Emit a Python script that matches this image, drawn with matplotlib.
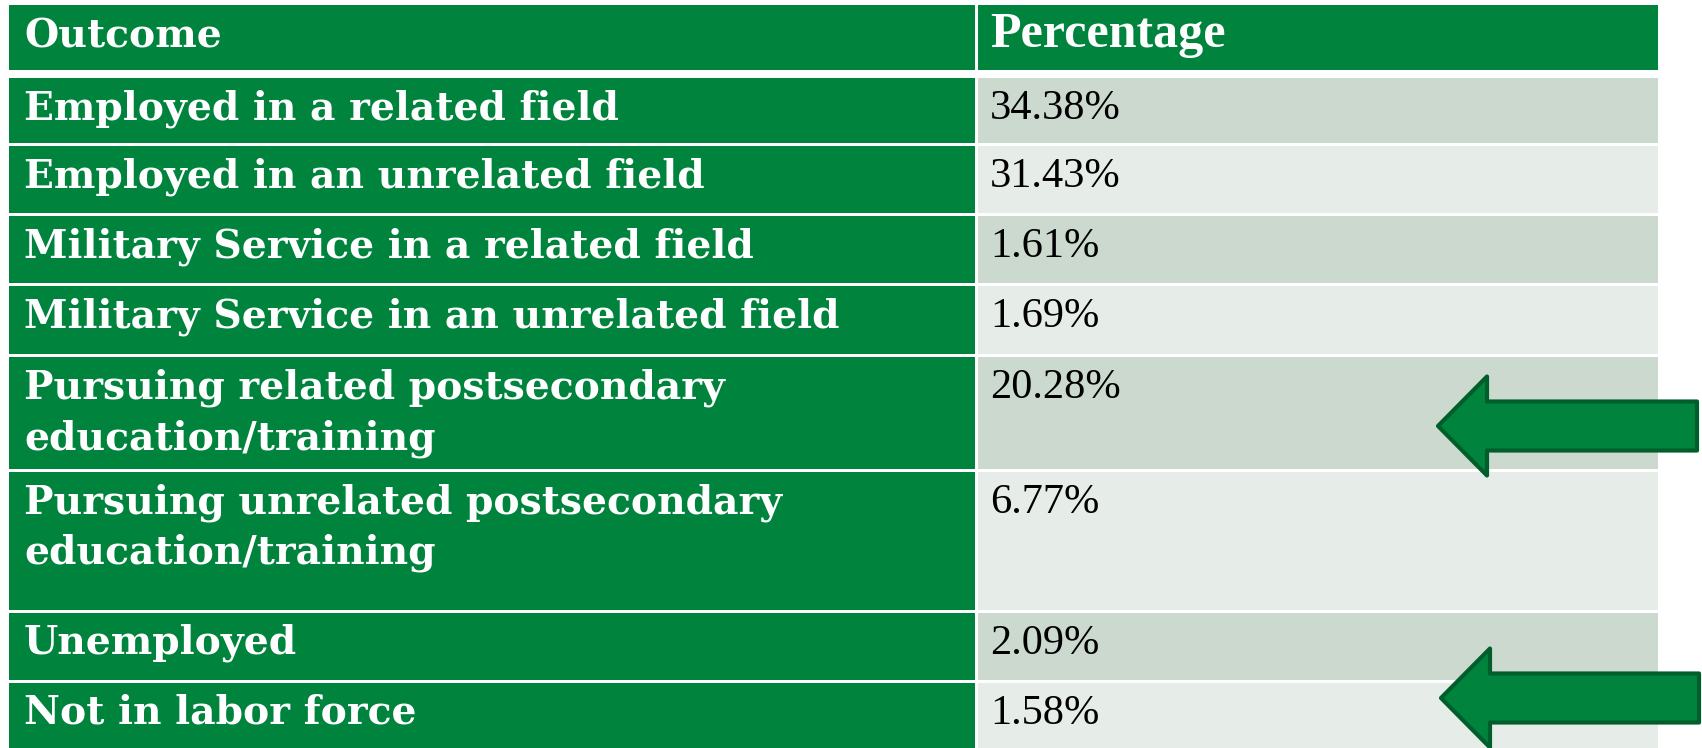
import matplotlib
matplotlib.use("Agg")
import matplotlib.pyplot as plt
from matplotlib.patches import Rectangle, Polygon

# ── data ───────────────────────────────────────────────────────────────────
header = ["Outcome", "Percentage"]
outcomes = [
    "Employed in a related field",
    "Employed in an unrelated field",
    "Military Service in a related field",
    "Military Service in an unrelated field",
    "Pursuing related postsecondary\neducation/training",
    "Pursuing unrelated postsecondary\neducation/training",
    "Unemployed",
    "Not in labor force",
]
percentages = [34.38, 31.43, 1.61, 1.69, 20.28, 6.77, 2.09, 1.58]

# ── layout (pixels) ────────────────────────────────────────────────────────
W, H = 1702, 748
x_left, x_div, x_pct, x_right = 9, 975, 978, 1658
header_top, header_bot = 5, 70
row_tops = [78, 146, 216, 286, 357, 472, 613, 683]
row_bots = [143, 213, 283, 354, 469, 610, 680, 748]

GREEN = "#00843D"
DARK_ROW = "#CCD9CF"
LIGHT_ROW = "#E6ECE8"
ARROW_EDGE = "#005E2A"

fig = plt.figure(figsize=(W / 100, H / 100), dpi=100)
ax = fig.add_axes([0, 0, 1, 1])
ax.set_xlim(0, W)
ax.set_ylim(H, 0)
ax.axis("off")
fig.patch.set_facecolor("white")

label_font = ["DejaVu Serif"]
pct_font = ["Liberation Serif", "DejaVu Serif"]
fs_label = 28.3
fs_pct = 30.5

# header
ax.add_patch(Rectangle((x_left, header_top), x_div - x_left, header_bot - header_top,
                       facecolor=GREEN, edgecolor="none"))
ax.add_patch(Rectangle((x_pct, header_top), x_right - x_pct, header_bot - header_top,
                       facecolor=GREEN, edgecolor="none"))
ax.text(24, header_top + 42, header[0], fontsize=fs_label, fontweight="bold",
        color="white", family=label_font, va="baseline")
ax.text(990, header_top + 42, header[1], fontsize=36, fontweight="bold",
        color="white", family=pct_font, va="baseline")

# body rows
for i, (label, val) in enumerate(zip(outcomes, percentages)):
    top, bot = row_tops[i], row_bots[i]
    shade = DARK_ROW if i % 2 == 0 else LIGHT_ROW
    ax.add_patch(Rectangle((x_left, top), x_div - x_left, bot - top,
                           facecolor=GREEN, edgecolor="none"))
    ax.add_patch(Rectangle((x_pct, top), x_right - x_pct, bot - top,
                           facecolor=shade, edgecolor="none"))
    for j, line in enumerate(label.split("\n")):
        ax.text(24, top + 41 + j * 51, line, fontsize=fs_label, fontweight="bold",
                color="white", family=label_font, va="baseline")
    ax.text(990, top + 41, f"{val:.2f}%", fontsize=fs_pct, color="black",
            family=pct_font, va="baseline")

# arrows pointing at highlighted rows
def left_arrow(tip_x, cy, head_x, right_x, head_h, shaft_h):
    pts = [(tip_x, cy), (head_x, cy - head_h / 2), (head_x, cy - shaft_h / 2),
           (right_x, cy - shaft_h / 2), (right_x, cy + shaft_h / 2),
           (head_x, cy + shaft_h / 2), (head_x, cy + head_h / 2)]
    ax.add_patch(Polygon(pts, closed=True, facecolor=GREEN, edgecolor=ARROW_EDGE,
                         linewidth=3, joinstyle="round", zorder=5, clip_on=False))

left_arrow(1438, 426, 1487, 1697, 99, 49)
left_arrow(1441, 698, 1490, 1699, 99, 49)

fig.savefig("out.png", dpi=100, facecolor="white")
